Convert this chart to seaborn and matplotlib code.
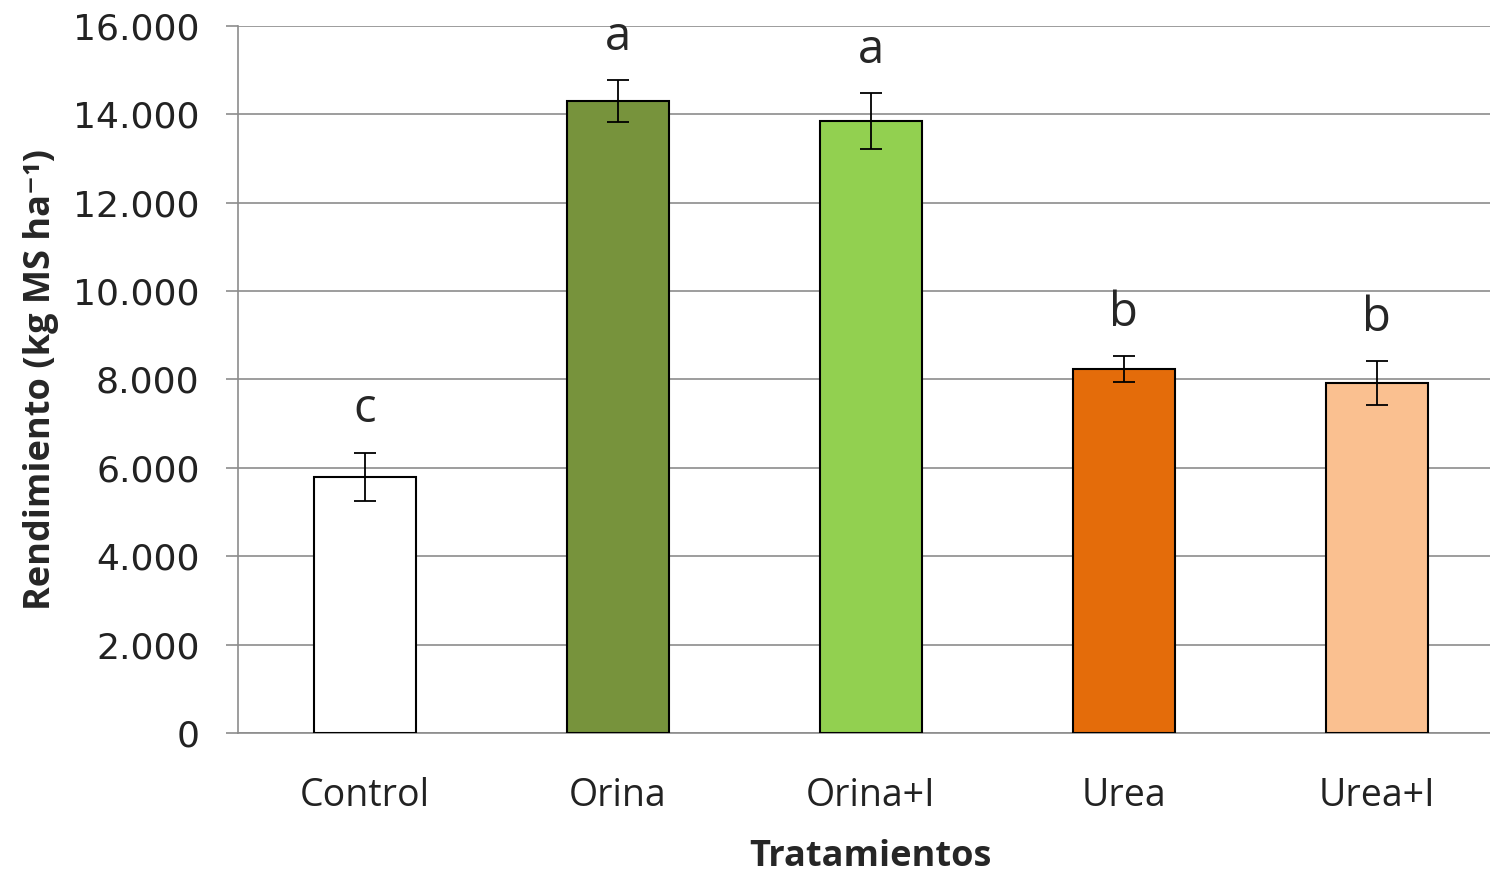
import numpy as np
import pandas as pd
import matplotlib
matplotlib.use("Agg")
import matplotlib.pyplot as plt
import seaborn as sns
from matplotlib.ticker import FuncFormatter, FixedLocator

tratamientos = ["Control", "Orina", "Orina+I", "Urea", "Urea+I"]
rendimiento = [5800, 14300, 13850, 8240, 7920]
error = [540, 470, 630, 290, 490]
letras = ["c", "a", "a", "b", "b"]
colores = ["#FFFFFF", "#77933C", "#92D050", "#E46C0A", "#FAC090"]

df = pd.DataFrame({"tratamiento": tratamientos, "rendimiento": rendimiento})

sns.set_style("white")
plt.rcParams["font.family"] = ["Open Sans", "DejaVu Sans"]

fig = plt.figure(figsize=(14.9, 8.75), dpi=100)
ax = fig.add_axes([0.16, 0.1623, 0.849, 0.808])

sns.barplot(data=df, x="tratamiento", y="rendimiento", hue="tratamiento",
            palette=colores, saturation=1, width=0.4, edgecolor="black",
            linewidth=1.5, errorbar=None, legend=False, ax=ax, zorder=3)

x = np.arange(len(tratamientos))
ax.errorbar(x, rendimiento, yerr=error, fmt="none", ecolor="black",
            elinewidth=1.3, capsize=8, capthick=1.3, zorder=4)

for xi, v, e, l in zip(x, rendimiento, error, letras):
    ax.annotate(l, (xi, v + e), xytext=(0, 14), textcoords="offset points",
                ha="center", va="bottom", fontsize=34)

ax.set_ylim(0, 16000)
ax.set_xlim(-0.5, len(tratamientos) - 0.5)
ax.set_yticks(np.arange(0, 16001, 2000))
ax.yaxis.set_major_formatter(FuncFormatter(lambda v, p: f"{int(v):,}".replace(",", ".")))
ax.yaxis.grid(True, color="#8c8c8c", linewidth=1.2, zorder=0)
ax.set_axisbelow(True)

ax.xaxis.set_minor_locator(FixedLocator(np.arange(-0.5, len(tratamientos), 1.0)))
ax.tick_params(axis="x", which="major", length=0, pad=32, labelsize=27, labelcolor="#222222")
ax.tick_params(axis="x", which="minor", length=10, width=1.2, color="#8c8c8c", direction="out")
ax.tick_params(axis="y", length=9, width=1.2, color="#8c8c8c", direction="out",
               pad=19, labelsize=26, labelcolor="#222222", left=True)
for lbl in ax.get_yticklabels():
    lbl.set_family(["DejaVu Sans"])

for s in ["top", "right"]:
    ax.spines[s].set_visible(False)
for s in ["left", "bottom"]:
    ax.spines[s].set_color("#8c8c8c")
    ax.spines[s].set_linewidth(1.2)

ax.set_xlabel("Tratamientos", fontsize=26, fontweight="bold", labelpad=17)
ax.set_ylabel("Rendimiento (kg MS ha\u207b\u00b9)", fontsize=26, fontweight="bold", labelpad=10)

fig.savefig("out.png", dpi=100)
